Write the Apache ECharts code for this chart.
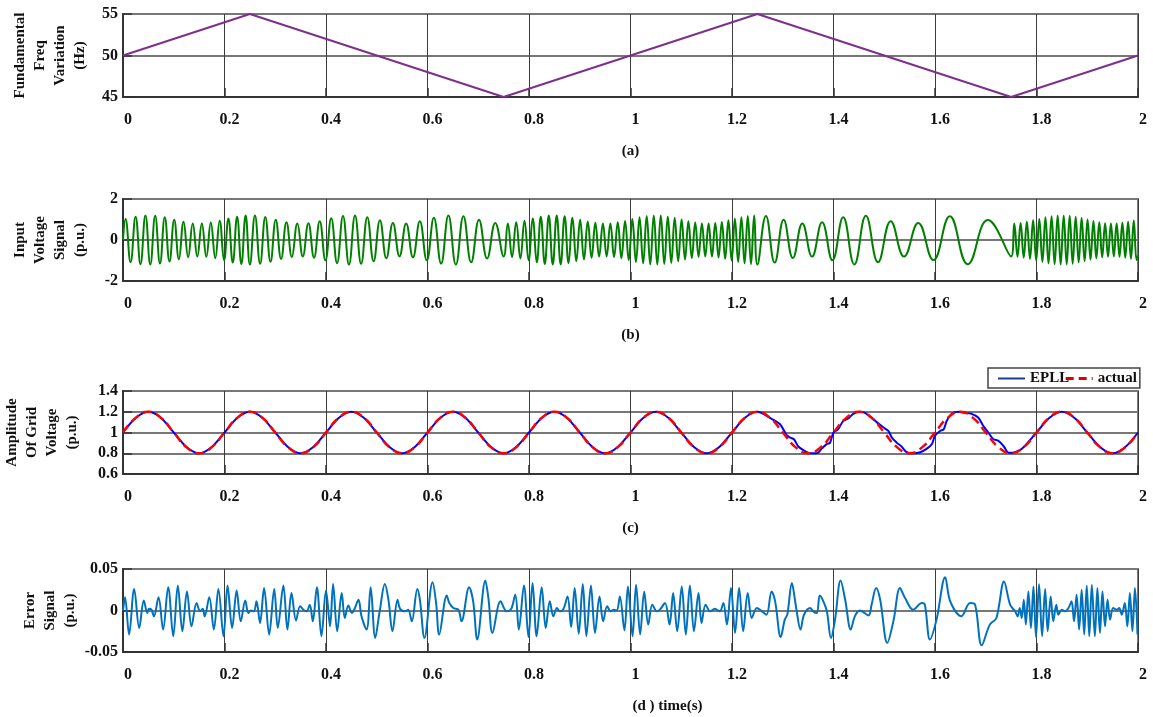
<!DOCTYPE html>
<html><head><meta charset="utf-8">
<script src="https://cdn.jsdelivr.net/npm/echarts@6/dist/echarts.min.js"></script>
<style>html,body{margin:0;padding:0;background:#fff}#c{width:1153px;height:717px}</style>
</head><body><div id="c"></div>
<script>
// ---------- data ----------
const timeTicks = [0, 0.2, 0.4, 0.6, 0.8, 1, 1.2, 1.4, 1.6, 1.8, 2];
const panelLabels = ['(a)', '(b)', '(c)', '(d ) time(s)'];
const yNames = ['Fundamental\nFreq\nVariation\n(Hz)', 'Input\nVoltage\nSignal\n(p.u.)', 'Amplitude\nOf Grid\nVoltage\n(p.u.)', 'Error\nSignal\n(p.u.)'];

// (a) fundamental frequency [t, Hz]
const freqPts = [[0,50],[0.25,55],[0.75,45],[1.25,55],[1.75,45],[2,50]];

// (b) input voltage signal: extrema [t, p.u.]
const inputPts = [[0,0],
[.0050,1.03],[.0149,-1.09],[.0248,1.14],[.0345,-1.18],[.0442,1.20],[.0538,-1.20],[.0634,1.18],[.0729,-1.15],[.0823,1.11],[.0916,-1.05],[.1009,0.99],[.1101,-0.94],[.1193,0.89],[.1284,-0.84],[.1374,0.81],[.1464,-0.80],[.1554,0.80],[.1642,-0.82],[.1730,0.85],[.1818,-0.89],[.1905,0.94],[.1991,-0.99],[.2077,1.05],[.2163,-1.10],[.2248,1.14],[.2332,-1.17],[.2416,1.19],[.2500,-1.20],
[.2600,1.19],[.2702,-1.16],[.2804,1.12],[.2907,-1.06],[.3010,0.99],[.3115,-0.93],[.3221,0.87],[.3327,-0.83],[.3435,0.80],[.3543,-0.80],[.3653,0.82],[.3764,-0.86],[.3876,0.92],[.3989,-0.99],[.4103,1.06],[.4218,-1.13],[.4335,1.17],[.4453,-1.20],[.4572,1.19],[.4692,-1.16],[.4814,1.11],[.4938,-1.04],[.5063,0.96],[.5189,-0.89],[.5318,0.83],[.5448,-0.80],[.5579,0.81],[.5713,-0.84],[.5849,0.91],[.5986,-0.99],[.6126,1.08],[.6268,-1.15],[.6412,1.19],[.6559,-1.20],[.6708,1.16],[.6860,-1.09],[.7015,0.99],[.7174,-0.90],[.7335,0.83],[.7500,-0.80],
[.7583,0.81],[.7666,-0.83],[.7748,0.86],[.7830,-0.90],[.7911,0.94],[.7992,-0.99],[.8073,1.05],[.8153,-1.09],[.8232,1.13],[.8311,-1.17],[.8390,1.19],[.8468,-1.20],[.8546,1.20],[.8624,-1.19],[.8702,1.16],[.8779,-1.13],[.8856,1.09],[.8932,-1.04],[.9008,0.99],[.9083,-0.95],[.9158,0.90],[.9233,-0.87],[.9307,0.84],[.9381,-0.81],[.9456,0.80],[.9530,-0.80],[.9603,0.81],[.9676,-0.83],[.9749,0.86],[.9821,-0.89],[.9893,0.93],[.9965,-0.98],[1.0036,1.02],[1.0107,-1.07],[1.0178,1.11],[1.0249,-1.14],[1.0319,1.17],[1.0389,-1.19],[1.0459,1.20],[1.0528,-1.20],[1.0597,1.19],[1.0666,-1.17],[1.0735,1.15],[1.0803,-1.12],[1.0871,1.08],[1.0939,-1.04],[1.1007,1.00],[1.1074,-0.95],[1.1141,0.91],[1.1208,-0.88],[1.1275,0.85],[1.1341,-0.82],[1.1407,0.81],[1.1473,-0.80],[1.1539,0.80],[1.1605,-0.81],[1.1670,0.83],[1.1735,-0.85],[1.1800,0.88],[1.1865,-0.92],[1.1929,0.96],[1.1993,-1.00],[1.2057,1.04],[1.2121,-1.07],[1.2185,1.11],[1.2248,-1.14],[1.2311,1.17],[1.2374,-1.18],[1.2437,1.20],[1.2500,-1.20],
[1.2669,1.17],[1.2841,-1.10],[1.3018,0.99],[1.3199,-0.88],[1.3386,0.81],[1.3577,-0.81],[1.3775,0.87],[1.3979,-0.99],[1.4191,1.11],[1.4410,-1.19],[1.4638,1.18],[1.4877,-1.08],[1.5127,0.92],[1.5390,-0.81],[1.5670,0.83],[1.5969,-0.98],[1.6292,1.16],[1.6646,-1.18],[1.7042,0.97],[1.7500,-0.80],
[1.7562,0.80],[1.7625,-0.82],[1.7687,0.83],[1.7748,-0.86],[1.7810,0.89],[1.7872,-0.92],[1.7933,0.96],[1.7994,-1.00],[1.8055,1.03],[1.8116,-1.07],[1.8176,1.11],[1.8236,-1.14],[1.8297,1.16],[1.8357,-1.18],[1.8417,1.19],[1.8476,-1.20],[1.8536,1.20],[1.8595,-1.19],[1.8654,1.18],[1.8713,-1.16],[1.8772,1.13],[1.8831,-1.10],[1.8889,1.07],[1.8948,-1.03],[1.9006,1.00],[1.9064,-0.96],[1.9122,0.93],[1.9179,-0.89],[1.9237,0.87],[1.9294,-0.84],[1.9352,0.82],[1.9409,-0.81],[1.9466,0.80],[1.9523,-0.80],[1.9579,0.81],[1.9636,-0.82],[1.9692,0.84],[1.9749,-0.86],[1.9805,0.89],[1.9861,-0.92],[1.9917,0.95],[1.9972,-0.98],[2.0,-0.75]];

// (c) amplitude of grid voltage
const ampT = [0,0.025,0.05,0.075,0.1,0.125,0.15,0.175,0.2,0.225,0.25,0.275,0.3,0.325,0.35,0.375,0.4,0.425,0.45,0.475,0.5,0.525,0.55,0.575,0.6,0.625,0.65,0.675,0.7,0.725,0.75,0.775,0.8,0.825,0.85,0.875,0.9,0.925,0.95,0.975,1,1.025,1.05,1.075,1.1,1.125,1.15,1.175,1.2,1.225,1.25,1.275,1.3,1.325,1.35,1.375,1.4,1.425,1.45,1.475,1.5,1.525,1.55,1.575,1.6,1.625,1.65,1.675,1.7,1.725,1.75,1.775,1.8,1.825,1.85,1.875,1.9,1.925,1.95,1.975,2];
const ampActual = [1,1.141,1.2,1.141,1,0.859,0.8,0.859,1,1.141,1.2,1.141,1,0.859,0.8,0.859,1,1.141,1.2,1.141,1,0.859,0.8,0.859,1,1.141,1.2,1.141,1,0.859,0.8,0.859,1,1.141,1.2,1.141,1,0.859,0.8,0.859,1,1.141,1.2,1.141,1,0.859,0.8,0.859,1,1.141,1.2,1.141,1,0.859,0.8,0.859,1,1.141,1.2,1.141,1,0.859,0.8,0.859,1,1.141,1.2,1.141,1,0.859,0.8,0.859,1,1.141,1.2,1.141,1,0.859,0.8,0.859,1];
const epllPts = [[0,1],[0.025,1.14],[0.05,1.2],[0.075,1.14],[0.1,1],[0.125,0.86],[0.15,0.8],[0.175,0.86],[0.2,1],[0.225,1.14],[0.25,1.2],[0.275,1.14],[0.3,1],[0.325,0.86],[0.35,0.8],[0.375,0.86],[0.4,1],[0.425,1.14],[0.45,1.2],[0.475,1.14],[0.5,1],[0.525,0.86],[0.55,0.8],[0.575,0.86],[0.6,1],[0.625,1.14],[0.65,1.2],[0.675,1.14],[0.7,1],[0.725,0.86],[0.75,0.8],[0.775,0.86],[0.8,1],[0.825,1.14],[0.85,1.2],[0.875,1.14],[0.9,1],[0.925,0.86],[0.95,0.8],[0.975,0.86],[1,1],[1.025,1.14],[1.05,1.2],[1.075,1.14],[1.1,1],[1.125,0.86],[1.15,0.8],[1.175,0.86],[1.2,1],[1.225,1.14],[1.25,1.2],[1.275,1.14],
[1.2946,1.08],[1.3077,0.974],[1.315,0.95],[1.322,0.935],[1.3307,0.865],[1.3405,0.83],[1.354,0.80],[1.367,0.80],[1.377,0.845],[1.387,0.89],[1.393,0.90],[1.4,1.0],[1.409,1.03],[1.419,1.11],[1.429,1.135],[1.439,1.18],[1.452,1.2],[1.462,1.19],[1.475,1.145],[1.485,1.10],[1.498,1.05],[1.508,1.015],[1.515,0.95],[1.525,0.90],[1.534,0.865],[1.544,0.81],[1.557,0.80],[1.571,0.81],[1.584,0.845],[1.594,0.89],[1.6,0.97],[1.61,1.015],[1.617,1.03],[1.623,1.11],[1.633,1.18],[1.646,1.20],[1.659,1.19],[1.672,1.18],[1.685,1.145],[1.695,1.065],[1.705,1.0],[1.715,0.935],[1.725,0.92],[1.735,0.87],[1.745,0.806],[1.754,0.806],[1.767,0.83],[1.775,0.86],[1.8,1.0],[1.825,1.14],[1.85,1.2],[1.875,1.14],[1.9,1.0],[1.925,0.86],[1.95,0.8],[1.975,0.86],[2,1.0]];

// (d) error signal [t, p.u.]
const errorPts = [[0,0],[.004,.016],[.012,-.029],[.022,.026],[.032,-.021],[.041,.012],[.048,-.003],[.051,.002],[.056,.001],[.061,-.007],[.070,.016],[.079,-.023],[.089,.028],[.099,-.031],[.108,.030],[.117,-.025],[.126,.023],[.135,-.019],[.145,.009],[.152,-.001],[.157,.002],[.161,-.007],[.170,.016],[.179,-.023],[.188,.026],[.198,-.031],[.206,.030],[.215,-.021],[.224,.024],[.232,-.013],[.241,.012],[.247,-.003],[.252,0],[.258,-.001],[.263,.011],[.270,-.015],[.278,.027],[.288,-.029],[.298,.026],[.305,-.021],[.316,.030],[.324,-.023],[.332,.021],[.341,-.012],[.349,.005],[.357,0],[.362,-.001],[.368,.007],[.374,-.013],[.382,.028],[.391,-.031],[.400,.024],[.408,-.019],[.414,.032],[.422,-.025],[.431,.021],[.437,-.009],[.444,.006],[.451,-.003],[.457,.003],[.464,.013],[.470,-.007],[.480,-.023],[.488,.028],[.497,-.033],[.506,0],[.516,.032],[.523,.013],[.531,-.025],[.541,.013],[.546,.002],[.556,-.001],[.562,.001],[.569,-.013],[.580,.026],[.585,.013],[.594,-.033],[.610,.034],[.617,.009],[.623,-.029],[.638,.018],[.643,.009],[.651,.003],[.661,.001],[.667,-.013],[.682,.028],[.690,.011],[.698,-.035],[.714,.036],[.720,.015],[.728,-.027],[.744,.011],[.756,-.001],[.765,.002],[.773,.019],[.780,-.023],[.790,.030],[.799,-.032],[.807,.033],[.815,-.031],[.825,.028],[.833,-.021],[.841,.011],[.848,-.007],[.855,.003],[.861,-.001],[.868,.002],[.876,.017],[.883,-.020],[.890,.027],[.898,-.028],[.906,.032],[.913,-.031],[.922,.030],[.930,-.027],[.939,.017],[.946,-.013],[.954,.005],[.961,-.001],[.967,.001],[.973,0],[.979,.017],[.988,-.024],[.995,.029],[1.004,-.031],[1.011,.031],[1.019,-.029],[1.027,.023],[1.035,-.017],[1.043,.007],[1.052,-.001],[1.058,.001],[1.068,.009],[1.077,-.017],[1.084,.021],[1.092,-.025],[1.101,.029],[1.109,-.029],[1.117,.030],[1.125,-.025],[1.134,.021],[1.140,-.015],[1.148,.007],[1.157,-.001],[1.166,.002],[1.176,-.001],[1.183,.009],[1.190,-.017],[1.198,.027],[1.206,-.027],[1.214,.027],[1.222,-.025],[1.231,.021],[1.239,-.009],[1.249,.003],[1.259,-.001],[1.268,-.005],[1.278,.023],[1.285,.011],[1.296,-.032],[1.304,-.011],[1.309,-.005],[1.318,.033],[1.324,.013],[1.327,.001],[1.335,-.023],[1.342,-.005],[1.354,.003],[1.360,-.001],[1.367,-.003],[1.373,.018],[1.380,.011],[1.387,-.001],[1.395,-.033],[1.403,-.011],[1.414,.036],[1.423,.013],[1.434,-.023],[1.442,-.007],[1.452,0],[1.469,-.006],[1.475,.007],[1.484,.027],[1.492,.013],[1.506,-.039],[1.518,-.013],[1.531,.027],[1.541,.015],[1.557,.001],[1.574,.009],[1.580,.007],[1.590,-.035],[1.603,-.011],[1.620,.040],[1.630,.011],[1.652,-.007],[1.669,.009],[1.679,.007],[1.692,-.042],[1.708,-.017],[1.721,-.009],[1.736,.035],[1.748,.007],[1.758,-.001],[1.763,-.007],[1.767,.003],[1.771,-.009],[1.775,.013],[1.779,-.017],[1.784,.023],[1.789,-.021],[1.794,.029],[1.799,-.032],[1.805,.032],[1.811,-.031],[1.817,.026],[1.822,-.025],[1.828,.017],[1.833,-.013],[1.839,.007],[1.843,-.005],[1.850,.001],[1.856,-.001],[1.863,.003],[1.869,.011],[1.874,-.013],[1.879,.019],[1.884,-.023],[1.889,.025],[1.894,-.029],[1.899,.030],[1.904,-.031],[1.909,.031],[1.915,-.031],[1.920,.027],[1.925,-.027],[1.930,.023],[1.935,-.019],[1.940,.013],[1.945,-.011],[1.951,.003],[1.958,.001],[1.963,.003],[1.968,-.005],[1.974,.009],[1.979,-.019],[1.984,.021],[1.989,-.025],[1.994,.027],[1.999,-.029]];

// y-axis ranges [min, max, interval]
const yRanges = [[45,55,5],[-2,2,2],[0.6,1.4,0.2],[-0.05,0.05,0.05]];

// ---------- chart ----------
const FONT = '"Liberation Serif","Times New Roman",serif';
const grids = [
  {left:123, width:1015, top:14, height:83},
  {left:123, width:1015, top:199, height:82},
  {left:123, width:1015, top:391, height:83},
  {left:123, width:1015, top:569, height:83}
];
const nameGaps = [33, 33, 41, 43];
const fmt = v => String(parseFloat(Number(v).toFixed(3)));

const option = {
  animation: false,
  backgroundColor: '#fff',
  grid: grids.map(g => Object.assign({show:true, borderColor:'#7a7a7a', borderWidth:2, backgroundColor:'#fff',
    containLabel:false, outerBoundsMode:'none'}, g)),
  xAxis: grids.map((g, i) => ({
    type: 'value', gridIndex: i, min: timeTicks[0], max: timeTicks[timeTicks.length-1],
    interval: timeTicks[1] - timeTicks[0],
    name: panelLabels[i], nameLocation: 'middle', nameGap: 47, nameMoveOverlap: false,
    nameTextStyle: {fontFamily: FONT, fontWeight: 'bold', fontSize: 15, color: '#111',
      padding: i === 3 ? [0,0,0,74] : 0},
    axisLine: {show: true, onZero: false, lineStyle: {color: '#333', width: 2}},
    axisTick: {show: true, inside: true, length: 9, lineStyle: {color: '#333', width: 1.5}},
    axisLabel: {fontFamily: FONT, fontWeight: 'bold', fontSize: 16, color: '#111', margin: 15,
      padding: [0,0,0,10], formatter: fmt},
    splitLine: {show: true, lineStyle: {color: '#3c3c3c', width: 1}}
  })),
  yAxis: grids.map((g, i) => ({
    type: 'value', gridIndex: i, min: yRanges[i][0], max: yRanges[i][1], interval: yRanges[i][2],
    name: yNames[i], nameLocation: 'middle', nameRotate: 90, nameGap: nameGaps[i], nameMoveOverlap: false,
    nameTextStyle: {fontFamily: FONT, fontWeight: 'bold', fontSize: 15, lineHeight: 20, color: '#111'},
    axisLine: {show: true, onZero: false, lineStyle: {color: '#333', width: 2}},
    axisTick: {show: true, inside: true, length: 9, lineStyle: {color: '#333', width: 1.5}},
    axisLabel: {fontFamily: FONT, fontWeight: 'bold', fontSize: 16, color: '#111', margin: 5, formatter: fmt},
    splitLine: {show: true, lineStyle: {color: '#777', width: 2}}
  })),
  legend: {
    left: 988, top: 368, itemWidth: 27, itemHeight: 12, itemGap: -5,
    padding: [3, 3, 2, 9], borderColor: '#444', borderWidth: 1.5, backgroundColor: '#fff', borderRadius: 0,
    itemStyle: {opacity: 0},
    textStyle: {fontFamily: FONT, fontWeight: 'bold', fontSize: 15, color: '#111'},
    data: [{name: 'EPLL', itemStyle: {opacity: 0}, lineStyle: {color: '#1f3a93', width: 2}},
           {name: 'actual', itemStyle: {opacity: 0}, lineStyle: {color: '#e00000', width: 3, type: [8, 5]}}]
  },
  series: [
    {name: 'freq', type: 'line', xAxisIndex: 0, yAxisIndex: 0, data: freqPts, symbol: 'none',
     lineStyle: {color: '#7E2F8E', width: 2}},
    {name: 'input', type: 'line', xAxisIndex: 1, yAxisIndex: 1, data: inputPts, symbol: 'none', smooth: 0.45,
     lineStyle: {color: '#008000', width: 2}},
    {name: 'EPLL', type: 'line', xAxisIndex: 2, yAxisIndex: 2, data: epllPts, symbol: 'none', smooth: 0.3,
     itemStyle: {color: '#0000FF'}, lineStyle: {color: '#0000FF', width: 2}},
    {name: 'actual', type: 'line', xAxisIndex: 2, yAxisIndex: 2, data: ampT.map((t, k) => [t, ampActual[k]]),
     symbol: 'none', smooth: 0.5, itemStyle: {color: '#FF0000'}, lineStyle: {color: '#FF0000', width: 2.5, type: [9, 5]}},
    {name: 'error', type: 'line', xAxisIndex: 3, yAxisIndex: 3, data: errorPts, symbol: 'none', smooth: 0.35,
     lineStyle: {color: '#0072BD', width: 2}}
  ]
};
const chart = echarts.init(document.getElementById('c'), null, {renderer: 'canvas'});
chart.setOption(option);
</script>
</body></html>
